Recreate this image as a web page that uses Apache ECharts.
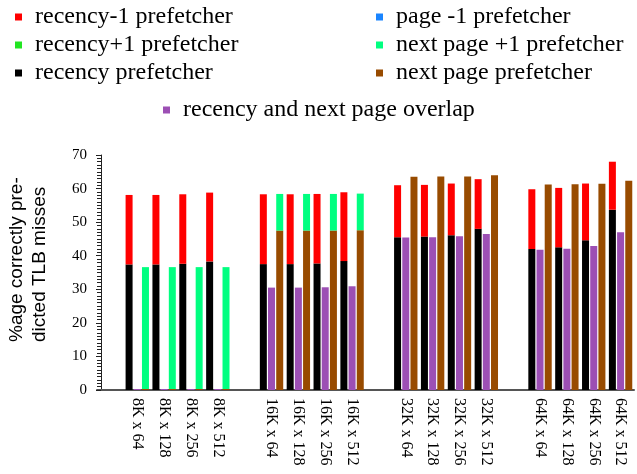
<!DOCTYPE html>
<html>
<head>
<meta charset="utf-8">
<script src="https://cdn.jsdelivr.net/npm/echarts@6/dist/echarts.min.js"></script>
<style>
  html, body { margin: 0; padding: 0; background: #fff; }
  #chart { width: 637px; height: 474px; }
</style>
</head>
<body>
<div id="chart"></div>
<script>
// TLB configurations (entries x sets), four groups of four
const configs = [
  '8K x 64', '8K x 128', '8K x 256', '8K x 512',
  '16K x 64', '16K x 128', '16K x 256', '16K x 512',
  '32K x 64', '32K x 128', '32K x 256', '32K x 512',
  '64K x 64', '64K x 128', '64K x 256', '64K x 512'
];

// % of TLB misses correctly predicted, per prefetcher (stack segments)
const recency        = [37.4, 37.4, 37.6, 38.3, 37.5, 37.5, 37.7, 38.4, 45.5, 45.7, 46.1, 48.0, 42.0, 42.5, 44.6, 53.7];
const recencyMinus1  = [20.7, 20.7, 20.7, 20.5, 20.8, 20.8, 20.7, 20.5, 15.5, 15.4, 15.4, 14.8, 17.8, 17.7, 16.9, 14.3];
const recencyPlus1   = [0, 0, 0, 0, 0, 0, 0, 0, 0, 0, 0, 0, 0, 0, 0, 0];
const overlap        = [0.3, 0.3, 0.3, 0.3, 30.5, 30.5, 30.6, 30.9, 45.4, 45.5, 45.8, 46.5, 41.8, 42.1, 42.9, 47.0];
const nextPage       = [0.3, 0.3, 0.3, 0.3, 47.5, 47.5, 47.5, 47.6, 63.5, 63.6, 63.6, 64.0, 61.2, 61.3, 61.4, 62.3];
const nextPagePlus1  = [36.3, 36.3, 36.3, 36.3, 10.9, 10.9, 10.9, 10.9, 0, 0, 0, 0, 0, 0, 0, 0];
const pageMinus1     = [0, 0, 0, 0, 0, 0, 0, 0, 0, 0, 0, 0, 0, 0, 0, 0];

const yMin = 0, yMax = 70, yStep = 10;

// insert an empty slot before every group of four configurations
function withGaps(arr, gapValue) {
  const out = [];
  arr.forEach((v, i) => {
    if (i % 4 === 0) out.push(typeof gapValue === 'function' ? gapValue(i / 4) : gapValue);
    out.push(v);
  });
  return out;
}
const categories = withGaps(configs, g => ' '.repeat(g + 1));

const SERIF = '"Liberation Serif", "Times New Roman", serif';
const SANS = '"Liberation Sans", Arial, sans-serif';

const colors = {
  recencyMinus1: '#ff0000',
  recencyPlus1: '#22e522',
  recency: '#000000',
  pageMinus1: '#1a85ff',
  nextPagePlus1: '#00ff80',
  nextPage: '#984b00',
  overlap: '#9c4fb4'
};

function bar(name, data, color, stack) {
  const s = {
    name: name,
    type: 'bar',
    data: withGaps(data, null),
    barWidth: 7,
    barGap: '17%',
    itemStyle: { color: color },
    emphasis: { disabled: true }
  };
  if (stack) s.stack = stack;
  return s;
}

const legendCommon = {
  orient: 'vertical',
  icon: 'rect',
  itemWidth: 7,
  itemHeight: 7,
  itemGap: 0,
  padding: 0,
  selectedMode: false,
  textStyle: {
    fontFamily: SERIF,
    fontSize: 24,
    color: '#000',
    lineHeight: 28,
    padding: [0, 0, 0, 8]
  }
};

const chart = echarts.init(document.getElementById('chart'), null, { renderer: 'canvas' });
chart.setOption({
  animation: false,
  backgroundColor: '#fff',
  legend: [
    Object.assign({}, legendCommon, {
      left: 15, top: 3,
      data: ['recency-1 prefetcher', 'recency+1 prefetcher', 'recency prefetcher']
    }),
    Object.assign({}, legendCommon, {
      left: 376, top: 3,
      data: ['page -1 prefetcher', 'next page +1 prefetcher', 'next page prefetcher']
    }),
    Object.assign({}, legendCommon, {
      left: 163, top: 96,
      data: ['recency and next page overlap']
    })
  ],
  graphic: [{
    type: 'text',
    x: 28,
    y: 342,
    rotation: Math.PI / 2,
    style: {
      text: '%age correctly pre-\ndicted TLB misses',
      font: '19px ' + SANS,
      fill: '#000',
      textAlign: 'left',
      textVerticalAlign: 'middle',
      lineHeight: 23
    }
  }],
  grid: { left: 97, right: 3, top: 155, bottom: 84 },
  xAxis: {
    type: 'category',
    data: categories,
    boundaryGap: true,
    axisLine: { lineStyle: { color: '#555', width: 2 } },
    axisTick: { show: false },
    axisLabel: {
      rotate: -90,
      interval: 0,
      margin: 8,
      fontFamily: SERIF,
      fontSize: 16,
      color: '#000'
    },
    splitLine: { show: false }
  },
  yAxis: {
    type: 'value',
    min: yMin,
    max: yMax,
    interval: yStep,
    offset: -4,
    axisLine: { show: true, lineStyle: { color: '#222', width: 1 } },
    axisTick: { show: true, inside: false, length: 5, lineStyle: { color: '#222' } },
    minorTick: { show: true, splitNumber: 10, length: 4, lineStyle: { color: '#222' } },
    axisLabel: { margin: 14, fontFamily: SERIF, fontSize: 15, color: '#000' },
    splitLine: { show: false }
  },
  series: [
    bar('recency prefetcher', recency, colors.recency, 'recency'),
    bar('recency-1 prefetcher', recencyMinus1, colors.recencyMinus1, 'recency'),
    bar('recency+1 prefetcher', recencyPlus1, colors.recencyPlus1, 'recency'),
    bar('recency and next page overlap', overlap, colors.overlap),
    bar('next page prefetcher', nextPage, colors.nextPage, 'nextpage'),
    bar('next page +1 prefetcher', nextPagePlus1, colors.nextPagePlus1, 'nextpage'),
    bar('page -1 prefetcher', pageMinus1, colors.pageMinus1, 'nextpage')
  ]
});
</script>
</body>
</html>
